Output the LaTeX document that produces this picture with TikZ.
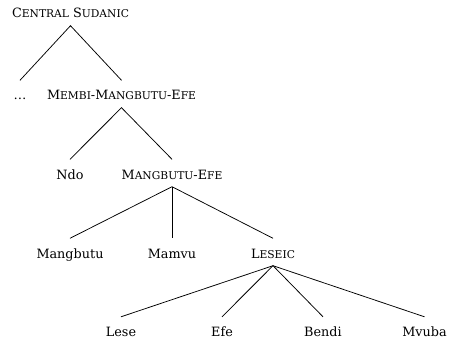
\documentclass[tikz,border=0pt]{standalone}
\usepackage{fontspec}
\setmainfont{DejaVu Serif}
\newcommand{\lsc}[1]{{\fontsize{10.7}{12}\selectfont #1}}
\begin{document}
\begin{tikzpicture}[x=1pt,y=-1pt,
  lang/.style={anchor=base, inner xsep=0pt, inner ysep=4.5pt, text height=15pt, text depth=3pt, font=\fontsize{12.8}{15}\selectfont},
  branch/.style={line width=0.75pt}]
\useasboundingbox (0,0) rectangle (449,339);
\node[lang] (cs) at (70.5,18) {C\lsc{ENTRAL} S\lsc{UDANIC}};
\node[lang] (dots) at (20,100) {\dots};
\node[lang] (mme) at (121.5,100) {M\lsc{EMBI}-M\lsc{ANGBUTU}-E\lsc{FE}};
\node[lang] (ndo) at (70,179) {Ndo};
\node[lang] (me) at (172,179) {M\lsc{ANGBUTU}-E\lsc{FE}};
\node[lang] (mangbutu) at (70,258) {Mangbutu};
\node[lang] (mamvu) at (172,258) {Mamvu};
\node[lang] (leseic) at (273,258) {L\lsc{ESEIC}};
\node[lang] (lese) at (121,336.5) {Lese};
\node[lang] (efe) at (222,336.5) {Efe};
\node[lang] (bendi) at (323,336.5) {Bendi};
\node[lang] (mvuba) at (424.5,336.5) {Mvuba};
\draw[branch] (dots.north) -- (cs.south) -- (mme.north);
\draw[branch] (ndo.north) -- (mme.south) -- (me.north);
\draw[branch] (mangbutu.north) -- (me.south) -- (leseic.north);
\draw[branch] (me.south) -- (mamvu.north);
\draw[branch] (lese.north) -- (leseic.south) -- (mvuba.north);
\draw[branch] (efe.north) -- (leseic.south) -- (bendi.north);
\end{tikzpicture}
\end{document}
